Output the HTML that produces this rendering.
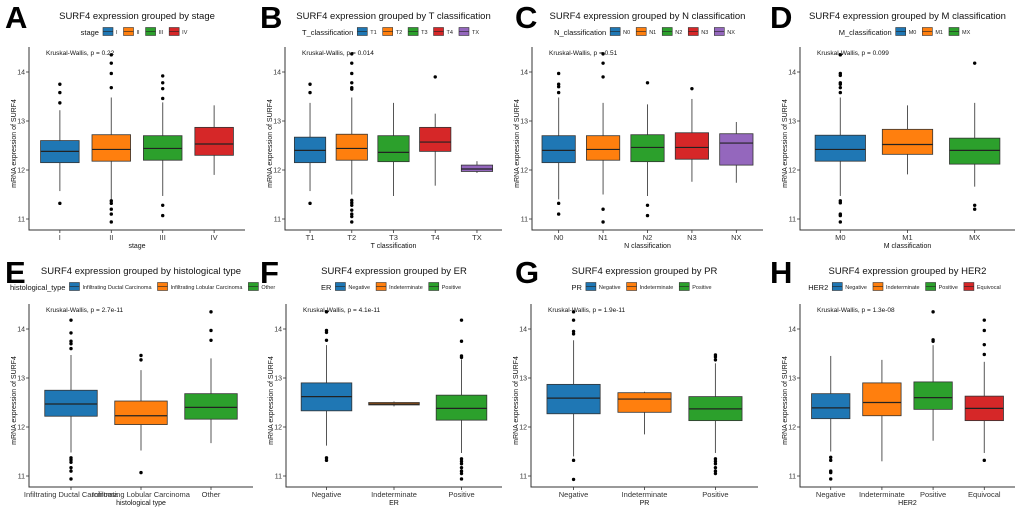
<!DOCTYPE html>
<html><head><meta charset="utf-8"><style>
html,body{margin:0;padding:0;background:#fff;}
svg{display:block;font-family:"Liberation Sans",Arial,sans-serif;}
</style></head><body>
<svg id="fig" width="1020" height="509" viewBox="0 0 1020 509" xmlns="http://www.w3.org/2000/svg"></svg>
<script>
const COLORS = ["#1f77b4","#ff7f0e","#2ca02c","#d62728","#9467bd"];
const panelLetters = ["A","B","C","D","E","F","G","H"];
const panelTitles = ["SURF4 expression grouped by stage","SURF4 expression grouped by T classification","SURF4 expression grouped by N classification","SURF4 expression grouped by M classification","SURF4 expression grouped by histological type","SURF4 expression grouped by ER","SURF4 expression grouped by PR","SURF4 expression grouped by HER2"];
const legendTitles = ["stage","T_classification","N_classification","M_classification","histological_type","ER","PR","HER2"];
const xTitles = ["stage","T classification","N classification","M classification","histological type","ER","PR","HER2"];
const pvalues = ["Kruskal-Wallis, p = 0.22","Kruskal-Wallis, p = 0.014","Kruskal-Wallis, p = 0.51","Kruskal-Wallis, p = 0.099","Kruskal-Wallis, p = 2.7e-11","Kruskal-Wallis, p = 4.1e-11","Kruskal-Wallis, p = 1.9e-11","Kruskal-Wallis, p = 1.3e-08"];
const categories = [
 ["I","II","III","IV"],
 ["T1","T2","T3","T4","TX"],
 ["N0","N1","N2","N3","NX"],
 ["M0","M1","MX"],
 ["Infiltrating Ductal Carcinoma","Infiltrating Lobular Carcinoma","Other"],
 ["Negative","Indeterminate","Positive"],
 ["Negative","Indeterminate","Positive"],
 ["Negative","Indeterminate","Positive","Equivocal"]
];
// [lowWhisker, q1, median, q3, highWhisker]
const boxStats = [
 [[11.57,12.15,12.38,12.6,13.22],[11.4,12.18,12.42,12.72,13.48],[11.47,12.2,12.44,12.7,13.38],[11.9,12.3,12.53,12.87,13.32]],
 [[11.57,12.15,12.4,12.67,13.37],[11.5,12.2,12.44,12.73,13.48],[11.47,12.17,12.36,12.7,13.37],[11.68,12.38,12.57,12.87,13.15],[11.94,11.97,12.02,12.1,12.18]],
 [[11.4,12.15,12.4,12.7,13.48],[11.5,12.2,12.42,12.7,13.37],[11.47,12.17,12.46,12.72,13.34],[11.76,12.22,12.46,12.76,13.45],[11.74,12.1,12.55,12.74,12.98]],
 [[11.47,12.18,12.42,12.71,13.48],[11.91,12.32,12.52,12.83,13.32],[11.66,12.12,12.4,12.65,13.37]],
 [[11.48,12.22,12.47,12.75,13.47],[11.52,12.05,12.23,12.53,13.16],[11.67,12.16,12.4,12.68,13.4]],
 [[11.62,12.33,12.62,12.9,13.67],[12.42,12.45,12.47,12.5,12.52],[11.47,12.14,12.38,12.65,13.38]],
 [[11.4,12.27,12.59,12.87,13.77],[11.85,12.3,12.57,12.7,12.72],[11.47,12.13,12.37,12.62,13.3]],
 [[11.5,12.17,12.39,12.68,13.45],[11.3,12.23,12.5,12.9,13.37],[11.72,12.36,12.6,12.92,13.67],[11.47,12.13,12.38,12.63,13.33]]
];
const outliers = [
 [[13.75,13.58,13.37,11.32],[14.35,14.18,13.97,13.68,11.37,11.32,11.2,11.1,10.94],[13.92,13.78,13.66,13.46,11.28,11.07],[]],
 [[13.75,13.58,11.32],[14.37,14.18,13.97,13.78,13.68,13.65,11.38,11.33,11.28,11.18,11.1,11.05,10.94],[],[13.9],[]],
 [[13.97,13.75,13.7,13.58,11.32,11.1],[14.37,14.18,13.9,11.2,10.94],[13.78,11.28,11.07],[13.66],[]],
 [[14.35,13.97,13.93,13.78,13.75,13.68,13.58,11.37,11.33,11.1,11.07,10.94],[],[14.18,11.28,11.2]],
 [[14.18,13.92,13.75,13.7,13.6,11.37,11.33,11.28,11.17,11.1,10.94],[13.46,13.37,11.07],[14.35,13.97,13.77]],
 [[14.35,13.97,13.93,13.77,11.37,11.32],[],[14.18,13.75,13.45,13.42,11.35,11.3,11.25,11.17,11.1,11.05,10.94]],
 [[14.35,14.18,13.95,13.9,11.32,10.93],[],[13.47,13.43,13.37,11.35,11.3,11.25,11.17,11.1,11.05]],
 [[11.38,11.32,11.1,11.07,10.94],[],[14.35,13.78,13.75],[14.18,13.97,13.68,13.48,11.32]]
];
const yTicks = [11,12,13,14];

const layout = [
 {ox:0,oy:0,l:29,r:245},{ox:255,oy:0,l:285,r:502},{ox:510,oy:0,l:532,r:763},{ox:765,oy:0,l:800,r:1015},
 {ox:0,oy:255,l:29,r:253},{ox:255,oy:255,l:286,r:502},{ox:510,oy:255,l:531,r:758},{ox:765,oy:255,l:800,r:1015}
];
const svg = document.getElementById('fig');
const NS = "http://www.w3.org/2000/svg";
function mk(tag, attrs, parent, text){
  const e = document.createElementNS(NS, tag);
  for (const k in attrs) e.setAttribute(k, attrs[k]);
  if (text !== undefined) e.textContent = text;
  parent.appendChild(e);
  return e;
}

panelLetters.forEach((letter, p) => {
  const L = layout[p];
  const top = L.oy === 0 ? 0 : 2;
  const y14 = L.oy + 72 + top, y11 = L.oy + 219 + top;
  const yScale = v => y11 + (v - 11) * (y14 - y11) / 3;
  const axisBottom = L.oy + 230 + top, axisTop = L.oy + 47 + top;
  const cats = categories[p], n = cats.length;
  const unit = (L.r - L.l) / (n + 0.2);
  const xScale = i => L.l + (i + 0.6) * unit;

  const g = mk('g', {}, svg);
  
  

  const lt = mk('text', {x: L.ox + 5, y: L.oy + 28, 'font-size': 31, 'font-weight': 'bold', fill: '#000'}, g, letter);
  
  

  const cx = (L.l + L.r) / 2;
  const tt = mk('text', {x: cx, y: L.oy + 19, 'font-size': 9.5, 'text-anchor': 'middle', fill: '#111'}, g, panelTitles[p]);
  
  

  const lg = mk('g', {}, g);
  
  
  const ly = L.oy + 35;
  const ltitle = mk('text', {x: 0, y: ly, 'font-size': 7.5, fill: '#111'}, lg, legendTitles[p]);
  let w = ltitle.getComputedTextLength() + 4;
  cats.forEach((c, i) => {
    const ent = mk('g', {}, lg);
    
    
    mk('rect', {x: w, y: ly - 7.5, width: 10, height: 8, fill: COLORS[i], stroke: '#333', 'stroke-width': 0.6}, ent);
    mk('line', {x1: w, x2: w + 10, y1: ly - 3.5, y2: ly - 3.5, stroke: '#222', 'stroke-width': 0.6}, ent);
    const t = mk('text', {x: w + 13, y: ly - 1, 'font-size': 5.5, fill: '#222'}, ent, c);
    w += 13 + t.getComputedTextLength() + 6;
  });
  let lx = cx - w / 2;
  if (lx < L.ox + 10) lx = L.ox + 10;
  lg.setAttribute('transform', 'translate(' + lx + ',0)');

  const ax = mk('path', {d: 'M' + L.l + ',' + axisTop + 'V' + axisBottom + 'H' + L.r, fill: 'none', stroke: '#333', 'stroke-width': 1}, g);
  
  
  yTicks.forEach(v => {
    const y = yScale(v);
    mk('line', {x1: L.l - 3, x2: L.l, y1: y, y2: y, stroke: '#333', 'stroke-width': 0.8}, g);
    const t = mk('text', {x: L.l - 4, y: y + 2.5, 'font-size': 7, 'text-anchor': 'end', fill: '#333'}, g, String(v));
    
    
  });
  const yl = mk('text', {x: 0, y: 0, 'font-size': 7, 'text-anchor': 'middle', fill: '#111', transform: 'translate(' + (L.l - 13) + ',' + ((axisTop + axisBottom) / 2 + 5) + ') rotate(-90)'}, g, 'mRNA expression of SURF4');
  
  
  const xt = mk('text', {x: cx, y: axisBottom + 18, 'font-size': 7, 'text-anchor': 'middle', fill: '#111'}, g, xTitles[p]);
  
  
  const kw = mk('text', {x: L.l + 17, y: L.oy + 55 + top, 'font-size': 6.5, fill: '#111'}, g, pvalues[p]);
  
  

  cats.forEach((c, i) => {
    const x = xScale(i);
    mk('line', {x1: x, x2: x, y1: axisBottom, y2: axisBottom + 3, stroke: '#333', 'stroke-width': 0.8}, g);
    const t = mk('text', {x: x, y: axisBottom + 10, 'font-size': 7.5, 'text-anchor': 'middle', fill: '#333'}, g, c);
    
    

    const s = boxStats[p][i];
    const bw = unit * 0.75;
    const bg = mk('g', {}, g);
    
    
    mk('line', {x1: x, x2: x, y1: yScale(s[0]), y2: yScale(s[1]), stroke: '#555', 'stroke-width': 1}, bg);
    mk('line', {x1: x, x2: x, y1: yScale(s[3]), y2: yScale(s[4]), stroke: '#555', 'stroke-width': 1}, bg);
    mk('rect', {x: x - bw / 2, y: yScale(s[3]), width: bw, height: Math.max(1, yScale(s[1]) - yScale(s[3])), fill: COLORS[i], stroke: '#333', 'stroke-width': 0.8}, bg);
    mk('line', {x1: x - bw / 2, x2: x + bw / 2, y1: yScale(s[2]), y2: yScale(s[2]), stroke: '#222', 'stroke-width': 1.2}, bg);
    outliers[p][i].forEach(v => {
      const d = mk('circle', {cx: x, cy: yScale(v), r: 1.7, fill: '#000'}, bg);
      
      
    });
  });
});
</script>
</body></html>
